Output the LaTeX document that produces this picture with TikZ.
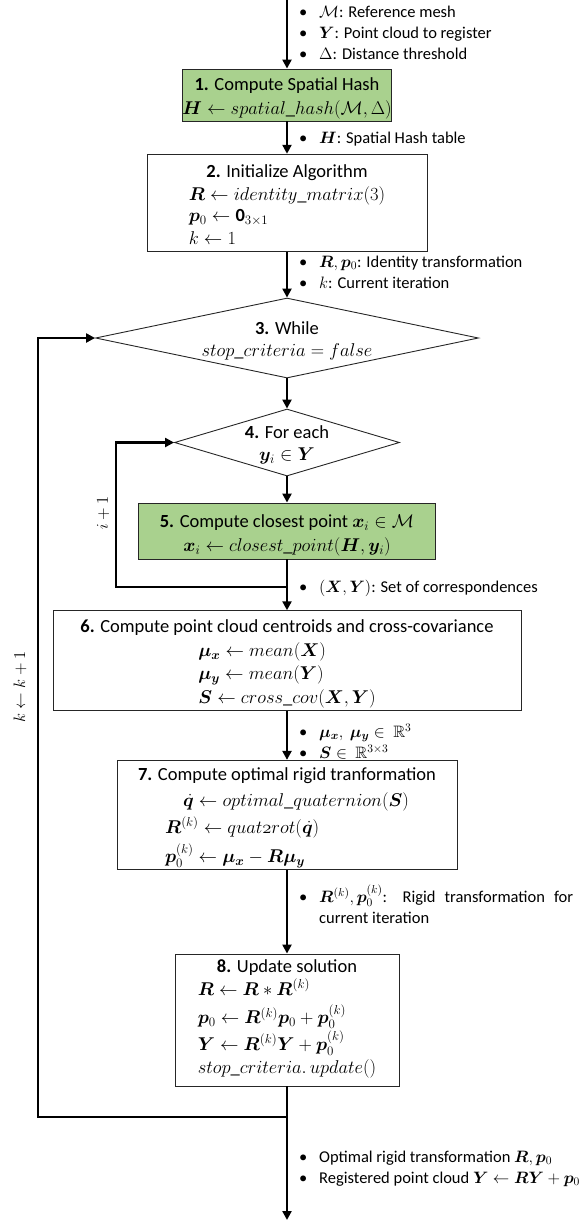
\RequirePackage{fix-cm}
\documentclass[tikz,border=0pt]{standalone}
\usepackage{amsmath,amssymb,bm}
\usepackage{fontspec}
\setmainfont{Carlito}
\usetikzlibrary{arrows.meta,shapes.geometric}
\definecolor{boxgreen}{HTML}{A9D18E}
\newcommand{\bfont}{\fontsize{18.5}{23.5}\selectfont}
\newcommand{\dfont}{\fontsize{18.5}{22}\selectfont}
\newcommand{\nfont}{\fontsize{16.5}{21}\selectfont}
\newcommand{\bl}{\makebox[21pt][l]{\hspace{1pt}\textbullet}}
\newcommand{\mword}[1]{\mathnormal{#1}}
\newcommand{\up}[1]{\rule{0pt}{#1}}
\begin{document}
\begin{tikzpicture}[x=1pt,y=1pt,
  box/.style={draw=black!85, line width=0.9pt, rectangle, inner sep=0pt, align=center, font=\bfont},
  greenbox/.style={box, fill=boxgreen},
  dia/.style={draw=black!85, line width=0.9pt, diamond, inner sep=0pt, font=\dfont},
  flow/.style={line width=2.8pt, -{Triangle[length=9pt,width=9pt]}},
  note/.style={anchor=base west, inner sep=0pt, font=\nfont},
  lbl/.style={rotate=90, inner sep=0pt, font=\nfont}]
\useasboundingbox (0,0) rectangle (586,-1224);

% boxes and decisions
\node[greenbox, minimum width=204pt, minimum height=52pt] (b1) at (287,-95)
  {\up{20pt}\textbf{1.} Compute Spatial Hash\\ $\bm{H}\leftarrow\mword{spatial\_hash}(\mathcal{M},\Delta)$};

\node[box, minimum width=280pt, minimum height=88pt] (b2) at (287,-203)
  {\up{23pt}\textbf{2.} Initialize Algorithm\\
   \begin{tabular}[t]{@{}l@{}}
   $\bm R\leftarrow \mword{identity\_matrix}(3)$\\[-3pt]
   $\bm p_0\leftarrow \mathbf{0}_{3\times 1}$\\
   $k\leftarrow 1$
   \end{tabular}};

\node[dia, minimum width=383pt, minimum height=80pt] (d3) at (287,-338)
  {\makebox[0pt]{\smash{\raisebox{-8pt}{\begin{tabular}{@{}c@{}}\textbf{3.} While\\ $\mword{stop\_criteria}=\mword{false}$\end{tabular}}}}};

\node[dia, minimum width=225pt, minimum height=67pt] (d4) at (287,-442.5)
  {\makebox[0pt]{\smash{\raisebox{-7.5pt}{\begin{tabular}{@{}c@{}}\textbf{4.} For each\\ $\bm y_i\in\bm Y$\end{tabular}}}}};

\node[greenbox, minimum width=297pt, minimum height=56pt] (b5) at (287,-531)
  {\up{22pt}\textbf{5.} Compute closest point $\bm x_i\in\mathcal M$\\ $\bm x_i\leftarrow\mword{closest\_point}(\bm H,\bm y_i)$};

\node[box, minimum width=468pt, minimum height=99pt] (b6) at (287,-660.5)
  {\up{22pt}\textbf{6.} Compute point cloud centroids and cross-covariance\\
   \begin{tabular}[t]{@{}l@{}}
   $\bm\mu_{\bm x}\leftarrow\mword{mean}(\bm X)$\\
   $\bm\mu_{\bm y}\leftarrow\mword{mean}(\bm Y)$\\
   $\bm S\leftarrow\mword{cross\_cov}(\bm X,\bm Y)$
   \end{tabular}};

\node[box, minimum width=340pt, minimum height=98pt] (b7) at (287,-815)
  {\up{20pt}\textbf{7.} Compute optimal rigid tranformation\\[3pt]
   \begin{tabular}[t]{@{}l@{}}
   \hspace{18pt}$\dot{\bm q}\leftarrow\mword{optimal\_quaternion}(\bm S)$\\[3pt]
   $\bm R^{(k)}\leftarrow\mword{quat2rot}(\dot{\bm q})$\\[3pt]
   $\bm p_0^{(k)}\leftarrow\bm\mu_{\bm x}-\bm R\bm\mu_{\bm y}$
   \end{tabular}};

\node[box, minimum width=224pt, minimum height=132pt] (b8) at (287,-1020)
  {\textbf{8.} Update solution\\
   \begin{tabular}[t]{@{}l@{}}
   $\bm R\leftarrow\bm R*\bm R^{(k)}$\\[2pt]
   $\bm p_0\leftarrow\bm R^{(k)}\bm p_0+\bm p_0^{(k)}$\\
   $\bm Y\leftarrow\bm R^{(k)}\bm Y+\bm p_0^{(k)}$\\
   $\mword{stop\_criteria}.\,\mword{update}()$
   \end{tabular}};

% bullet notes
\node[note] (n1) at (298,-17.5) {\begin{tabular}[t]{@{}l@{}}
  \bl$\mathcal M$: Reference mesh\\
  \bl$\bm Y$: Point cloud to register\\
  \bl$\Delta$: Distance threshold\end{tabular}};
\node[note] (n2) at (298,-143.5) {\bl$\bm H$: Spatial Hash table};
\node[note] (n3) at (298,-267.5) {\begin{tabular}[t]{@{}l@{}}
  \bl$\bm R,\bm p_0$: Identity transformation\\
  \bl$k$: Current iteration\end{tabular}};
\node[note] (n4) at (298,-592.5) {\bl$(\bm X,\bm Y)$: Set of correspondences};
\node[note] (n5) at (298,-737.5) {\begin{tabular}[t]{@{}l@{}}
  \bl$\bm\mu_{\bm x},\ \bm\mu_{\bm y}\in\ \mathbb{R}^3$\\
  \bl$\bm S\in\ \mathbb{R}^{3\times 3}$\end{tabular}};
\node[note] (n6) at (298,-902.5) {\begin{tabular}[t]{@{}l@{}}
  \bl\makebox[254pt][s]{$\bm R^{(k)},\bm p_0^{(k)}$: Rigid transformation for}\\
  \hspace{21pt}current iteration\end{tabular}};
\node[note] (n7) at (298,-1162.5) {\begin{tabular}[t]{@{}l@{}}
  \bl Optimal rigid transformation $\bm R,\bm p_0$\\
  \bl Registered point cloud $\bm Y\leftarrow\bm R\bm Y+\bm p_0$\end{tabular}};

% loop labels
\node[lbl] (li) at (103,-513) {$i+1$};
\node[lbl] (lk) at (20,-687) {$k\leftarrow k+1$};

% connectors
\coordinate (top) at (287,0);
\coordinate (bot) at (287,-1220);
\draw[flow] (top) -- (b1.north);
\draw[flow] (b1.south) -- (b2.north);
\draw[flow] (b2.south) -- (d3.north);
\draw[flow] (d3.south) -- (d4.north);
\draw[flow] (d4.south) -- (b5.north);
\draw[flow] (b5.south) -- (b6.north);
\draw[flow] (b6.south) -- (b7.north);
\draw[flow] (b7.south) -- (b8.north);
\draw[flow] (b8.south) -- (bot);
\coordinate (j1) at (287,-587);
\coordinate (c1) at (116,-587);
\draw[flow] (j1) -- (c1) |- (d4.west);
\coordinate (j2) at (287,-1117);
\coordinate (c2) at (38,-1117);
\draw[flow] (j2) -- (c2) |- (d3.west);
\end{tikzpicture}
\end{document}
